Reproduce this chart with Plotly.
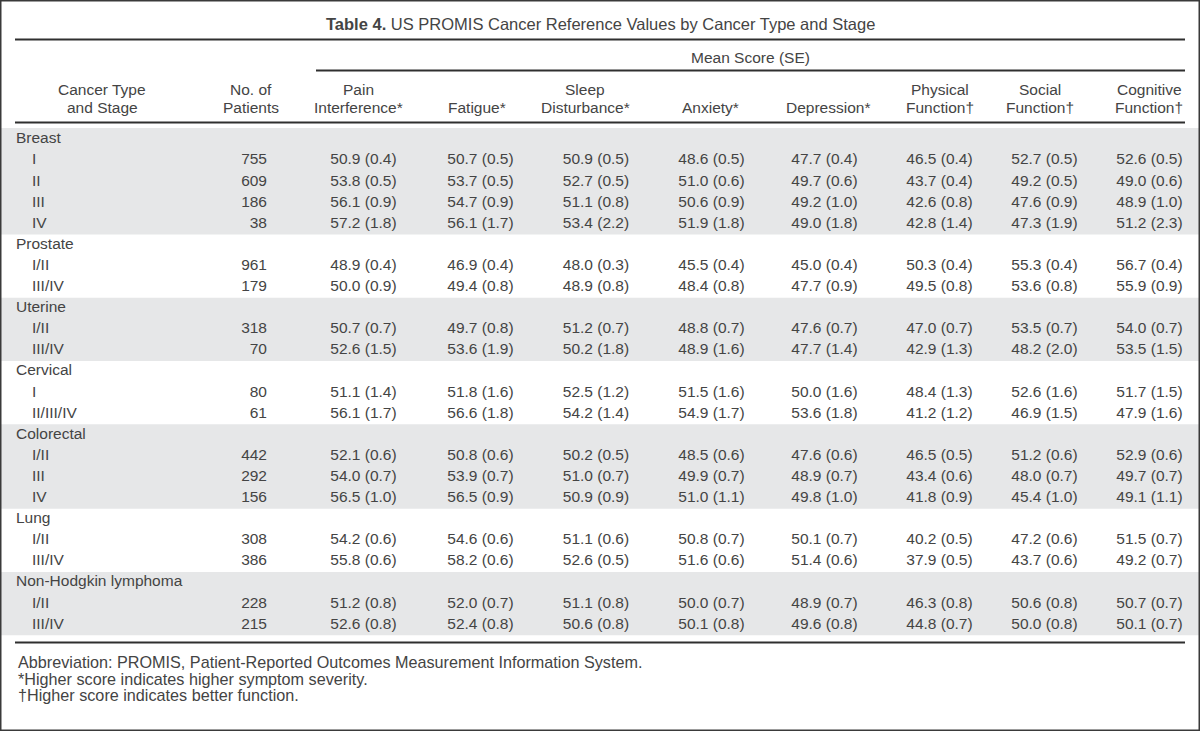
import plotly.graph_objects as go

# ---------------- data ----------------
groups = ["Breast", "Prostate", "Uterine", "Cervical", "Colorectal", "Lung", "Non-Hodgkin lymphoma"]
stages = [["I", "II", "III", "IV"], ["I/II", "III/IV"], ["I/II", "III/IV"], ["I", "II/III/IV"],
          ["I/II", "III", "IV"], ["I/II", "III/IV"], ["I/II", "III/IV"]]
patients = [755, 609, 186, 38, 961, 179, 318, 70, 80, 61, 442, 292, 156, 308, 386, 228, 215]

pain_mean = [50.9, 53.8, 56.1, 57.2, 48.9, 50.0, 50.7, 52.6, 51.1, 56.1, 52.1, 54.0, 56.5, 54.2, 55.8, 51.2, 52.6]
pain_se = [0.4, 0.5, 0.9, 1.8, 0.4, 0.9, 0.7, 1.5, 1.4, 1.7, 0.6, 0.7, 1.0, 0.6, 0.6, 0.8, 0.8]
fatigue_mean = [50.7, 53.7, 54.7, 56.1, 46.9, 49.4, 49.7, 53.6, 51.8, 56.6, 50.8, 53.9, 56.5, 54.6, 58.2, 52.0, 52.4]
fatigue_se = [0.5, 0.5, 0.9, 1.7, 0.4, 0.8, 0.8, 1.9, 1.6, 1.8, 0.6, 0.7, 0.9, 0.6, 0.6, 0.7, 0.8]
sleep_mean = [50.9, 52.7, 51.1, 53.4, 48.0, 48.9, 51.2, 50.2, 52.5, 54.2, 50.2, 51.0, 50.9, 51.1, 52.6, 51.1, 50.6]
sleep_se = [0.5, 0.5, 0.8, 2.2, 0.3, 0.8, 0.7, 1.8, 1.2, 1.4, 0.5, 0.7, 0.9, 0.6, 0.5, 0.8, 0.8]
anxiety_mean = [48.6, 51.0, 50.6, 51.9, 45.5, 48.4, 48.8, 48.9, 51.5, 54.9, 48.5, 49.9, 51.0, 50.8, 51.6, 50.0, 50.1]
anxiety_se = [0.5, 0.6, 0.9, 1.8, 0.4, 0.8, 0.7, 1.6, 1.6, 1.7, 0.6, 0.7, 1.1, 0.7, 0.6, 0.7, 0.8]
depression_mean = [47.7, 49.7, 49.2, 49.0, 45.0, 47.7, 47.6, 47.7, 50.0, 53.6, 47.6, 48.9, 49.8, 50.1, 51.4, 48.9, 49.6]
depression_se = [0.4, 0.6, 1.0, 1.8, 0.4, 0.9, 0.7, 1.4, 1.6, 1.8, 0.6, 0.7, 1.0, 0.7, 0.6, 0.7, 0.8]
physical_mean = [46.5, 43.7, 42.6, 42.8, 50.3, 49.5, 47.0, 42.9, 48.4, 41.2, 46.5, 43.4, 41.8, 40.2, 37.9, 46.3, 44.8]
physical_se = [0.4, 0.4, 0.8, 1.4, 0.4, 0.8, 0.7, 1.3, 1.3, 1.2, 0.5, 0.6, 0.9, 0.5, 0.5, 0.8, 0.7]
social_mean = [52.7, 49.2, 47.6, 47.3, 55.3, 53.6, 53.5, 48.2, 52.6, 46.9, 51.2, 48.0, 45.4, 47.2, 43.7, 50.6, 50.0]
social_se = [0.5, 0.5, 0.9, 1.9, 0.4, 0.8, 0.7, 2.0, 1.6, 1.5, 0.6, 0.7, 1.0, 0.6, 0.6, 0.8, 0.8]
cognitive_mean = [52.6, 49.0, 48.9, 51.2, 56.7, 55.9, 54.0, 53.5, 51.7, 47.9, 52.9, 49.7, 49.1, 51.5, 49.2, 50.7, 50.1]
cognitive_se = [0.5, 0.6, 1.0, 2.3, 0.4, 0.9, 0.7, 1.5, 1.5, 1.6, 0.6, 0.7, 1.1, 0.7, 0.7, 0.7, 0.7]

header_top = ["Pain", "", "Sleep", "", "", "Physical", "Social", "Cognitive"]
header_bottom = ["Interference*", "Fatigue*", "Disturbance*", "Anxiety*", "Depression*",
                 "Function\u2020", "Function\u2020", "Function\u2020"]

title_bold = "Table 4."
title_rest = "US PROMIS Cancer Reference Values by Cancer Type and Stage"
spanner = "Mean Score (SE)"
footnotes = ["Abbreviation: PROMIS, Patient-Reported Outcomes Measurement Information System.",
             "*Higher score indicates higher symptom severity.",
             "\u2020Higher score indicates better function."]

measures = [(pain_mean, pain_se), (fatigue_mean, fatigue_se), (sleep_mean, sleep_se),
            (anxiety_mean, anxiety_se), (depression_mean, depression_se),
            (physical_mean, physical_se), (social_mean, social_se), (cognitive_mean, cognitive_se)]

# ---------------- layout constants ----------------
W, H = 1200, 731
ROW0_PX = 139.5          # pixel centre of first body row
PITCH = 21.1             # pixel distance between body rows
FONT = "Liberation Sans, Arial, Helvetica, sans-serif"
FS = 15.5
TXT = "#444444"
LINE = "#2f2f2f"
BAND = "#e6e7e8"

group_x = 16
stage_x = 32
n_x = 267
val_cx = [363.5, 480.5, 596, 711.5, 824.5, 939.5, 1044.5, 1149.5]
head_cx = [358, 477, 585, 710, 828, 940, 1040, 1149]


def paper_y(px):
    return 1 - px / H


# row indices
group_rows, stage_rows, stage_labels = [], [], []
r = 0
for g, st in zip(groups, stages):
    group_rows.append(r)
    r += 1
    for s in st:
        stage_rows.append(r)
        stage_labels.append(s)
        r += 1
n_rows = r

fig = go.Figure()

text_font = dict(family=FONT, size=FS, color=TXT)

fig.add_trace(go.Scatter(x=[group_x] * len(groups), y=group_rows, text=groups, mode="text",
                         textposition="middle right", textfont=text_font, hoverinfo="skip"))
fig.add_trace(go.Scatter(x=[stage_x] * len(stage_rows), y=stage_rows, text=stage_labels, mode="text",
                         textposition="middle right", textfont=text_font, hoverinfo="skip"))
fig.add_trace(go.Scatter(x=[n_x] * len(stage_rows), y=stage_rows, text=[str(v) for v in patients],
                         mode="text", textposition="middle left", textfont=text_font, hoverinfo="skip"))
for cx, (mean, se) in zip(val_cx, measures):
    fig.add_trace(go.Scatter(x=[cx] * len(stage_rows), y=stage_rows,
                             text=[f"{m:.1f} ({s:.1f})" for m, s in zip(mean, se)],
                             mode="text", textposition="middle center", textfont=text_font,
                             hoverinfo="skip"))

shapes = []
# shaded bands for alternate groups
for gi, (g0, st) in enumerate(zip(group_rows, stages)):
    if gi % 2 == 0:
        top = g0 - (0.55 if gi == 0 else 0.5)
        shapes.append(dict(type="rect", xref="x", yref="y", x0=0, x1=W,
                           y0=top, y1=g0 + len(st) + 0.5,
                           fillcolor=BAND, line=dict(width=0), layer="below"))


def hline(y_px, x0, x1, w=2):
    shapes.append(dict(type="line", xref="x", yref="paper", x0=x0, x1=x1,
                       y0=paper_y(y_px), y1=paper_y(y_px), line=dict(color=LINE, width=w)))


hline(39.5, 15, 1185, 2)
hline(70.5, 316, 1185, 2)
hline(122.5, 15, 1185, 2)
hline(642.5, 15, 1185, 2)
# outer frame
shapes.append(dict(type="rect", xref="paper", yref="paper", x0=0, x1=1, y0=0, y1=1,
                   line=dict(color="#3a3a3a", width=3), fillcolor="rgba(0,0,0,0)"))

annotations = []


def note(text, x, y_px, anchor="center", size=FS):
    annotations.append(dict(text=text, x=x, y=paper_y(y_px), xref="x", yref="paper",
                            xanchor=anchor, yanchor="middle", showarrow=False,
                            font=dict(family=FONT, size=size, color=TXT)))


note(f"<b>{title_bold}</b> {title_rest}", 600, 24, size=16.5)
note(spanner, 750, 58)
note("Cancer Type", 102, 90)
note("and Stage", 102, 107.5)
note("No. of", 251, 90)
note("Patients", 251, 107.5)
for cx, t, b in zip(head_cx, header_top, header_bottom):
    if t:
        note(t, cx, 90)
    note(b, cx, 107.5)
for i, f in enumerate(footnotes):
    note(f, 16, 662 + i * 16.5, anchor="left", size=16.2)

fig.update_layout(
    width=W, height=H, autosize=False,
    margin=dict(l=0, r=0, t=0, b=0),
    paper_bgcolor="white", plot_bgcolor="white",
    showlegend=False,
    xaxis=dict(range=[0, W], visible=False, fixedrange=True),
    yaxis=dict(range=[(H - ROW0_PX) / PITCH, -ROW0_PX / PITCH], visible=False, fixedrange=True),
    shapes=shapes, annotations=annotations,
)

fig.write_html("out.html", config={"displayModeBar": False},
               post_script="document.body.style.margin='0';document.body.style.padding='0';"
                           "document.body.style.overflow='hidden';")
